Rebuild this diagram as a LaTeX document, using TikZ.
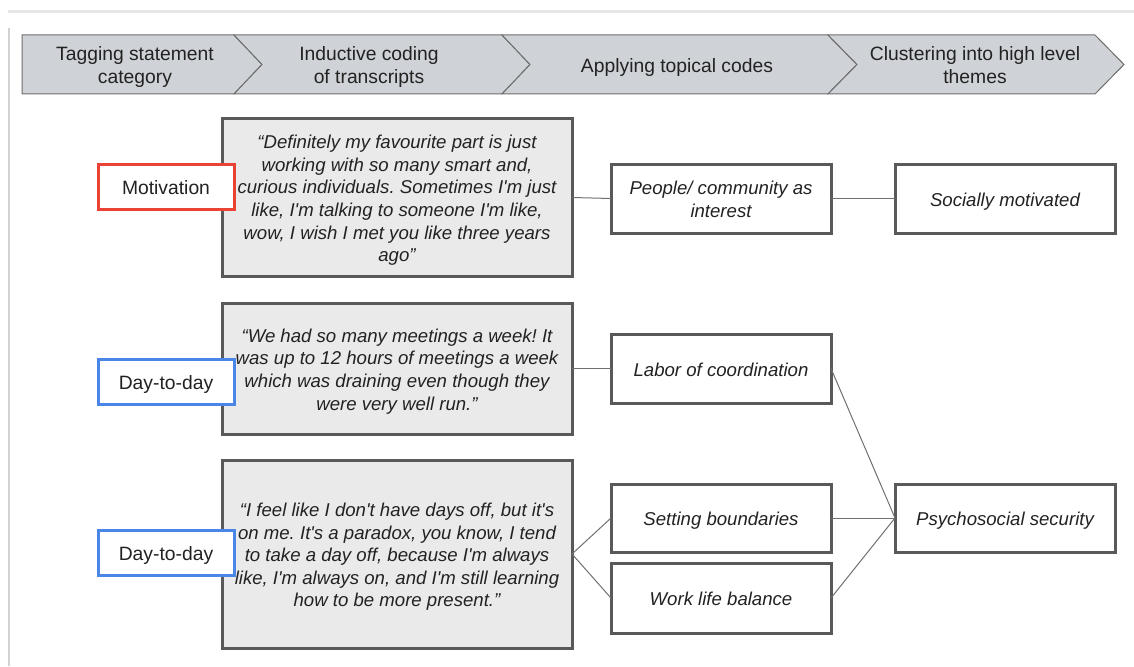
\documentclass[tikz,border=0pt]{standalone}
\usepackage{fontspec}
\setmainfont{Liberation Sans}[Ligatures=TeXOff]
\frenchspacing
\definecolor{textc}{HTML}{222222}
\definecolor{chevfill}{HTML}{CFD3D7}
\definecolor{chevline}{HTML}{6E6E6E}
\definecolor{quotefill}{HTML}{EAEAEA}
\definecolor{boxline}{HTML}{595959}
\definecolor{redline}{HTML}{EA4335}
\definecolor{blueline}{HTML}{4A86E8}
\definecolor{linkc}{HTML}{707070}
\definecolor{framec}{HTML}{E6E6E6}
% fixed first-line height and last-line depth so every text block sits the same way in its box
\newcommand\linestrut{\rule[-4pt]{0pt}{23.5pt}}
\newcommand\topstrut{\rule{0pt}{19.5pt}}
\newcommand\botstrut{\rule[-4pt]{0pt}{4pt}}
\begin{document}
\begin{tikzpicture}[x=1pt,y=-1pt,
  every node/.style={inner sep=0pt, outer sep=0pt, text=textc, align=center,
    font=\fontsize{19.3}{22.6}\selectfont,
    execute at begin node=\linestrut, execute at end node=\linestrut},
  italictext/.style={font=\fontsize{18.6}{22.6}\selectfont\itshape},
  chev/.style={fill=chevfill, draw=chevline, line width=1pt, line join=miter},
  quotebox/.style={rectangle, fill=quotefill, draw=boxline, line width=3pt,
    minimum width=350pt, italictext},
  tagbox/.style={rectangle, fill=white, line width=3pt,
    minimum width=136pt, minimum height=45pt},
  codebox/.style={rectangle, fill=white, draw=boxline, line width=3pt,
    minimum width=220pt, minimum height=69pt, italictext},
  link/.style={draw=linkc, line width=1pt}]

\useasboundingbox (0,0) rectangle (1134,666);

% page frame
\draw[framec, line width=2.5pt] (8,11.5) -- (1134,11.5);
\draw[framec!80!gray, line width=2pt] (9,28) -- (9,666);

% process chevrons
\path[chev] (22,35) -- (234,35) -- (262,64.5) -- (234,94) -- (22,94) -- cycle;
\path[chev] (234,35) -- (502,35) -- (530,64.5) -- (502,94) -- (234,94) -- (262,64.5) -- cycle;
\path[chev] (502,35) -- (828,35) -- (857,64.5) -- (828,94) -- (502,94) -- (530,64.5) -- cycle;
\path[chev] (828,35) -- (1095,35) -- (1124,64.5) -- (1095,94) -- (828,94) -- (857,64.5) -- cycle;
\node (s1) at (135,64.5) {\topstrut Tagging statement\\category\botstrut};
\node (s2) at (369,64.5) {\topstrut Inductive coding\\of transcripts\botstrut};
\node (s3) at (677,64.5) {Applying topical codes};
\node (s4) at (975,64.5) {\topstrut Clustering into high level\\themes\botstrut};

% quotes
\node[quotebox, minimum height=157pt] (q1) at (397,197.5)
  {\topstrut“Definitely my favourite part is just\\working with so many smart and,\\curious individuals. Sometimes I'm just\\like, I'm talking to someone I'm like,\\wow, I wish I met you like three years\\ago”\botstrut};
\node[quotebox, minimum height=131pt] (q2) at (397,368.5)
  {\topstrut“We had so many meetings a week! It\\was up to 12 hours of meetings a week\\which was draining even though they\\were very well run.”\botstrut};
\node[quotebox, minimum height=188pt] (q3) at (397,554)
  {\topstrut“I feel like I don't have days off, but it's\\on me. It's a paradox, you know, I tend\\to take a day off, because I'm always\\like, I'm always on, and I'm still learning\\how to be more present.”\botstrut};

% statement categories
\node[tagbox, draw=redline] (t1) at (166,186.5) {Motivation};
\node[tagbox, draw=blueline] (t2) at (166,382) {Day-to-day};
\node[tagbox, draw=blueline] (t3) at (166,552.5) {Day-to-day};

% topical codes
\node[codebox] (c1) at (721,198.5) {\topstrut People/ community as\\interest\botstrut};
\node[codebox] (c2) at (721,368.5) {Labor of coordination};
\node[codebox, minimum height=68pt] (c3) at (721,518) {Setting boundaries};
\node[codebox, minimum height=70pt] (c4) at (721,598) {Work life balance};

% themes
\node[codebox] (h1) at (1005,198.5) {Socially motivated};
\node[codebox, minimum height=68pt] (h2) at (1005,518) {Psychosocial security};

% links
\draw[link] (q1.east) -- (c1.west);
\draw[link] (c1.east) -- (h1.west);
\draw[link] (q2.east) -- (c2.west);
\draw[link] (q3.east) -- (c3.west);
\draw[link] (q3.east) -- (c4.west);
\draw[link] (c2.east) -- (h2.west);
\draw[link] (c3.east) -- (h2.west);
\draw[link] (c4.east) -- (h2.west);
\end{tikzpicture}
\end{document}
